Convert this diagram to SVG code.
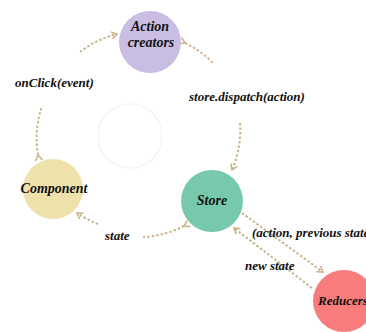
<svg xmlns="http://www.w3.org/2000/svg" width="366" height="332" viewBox="0 0 366 332">
<style>
.lbl{font-family:"Liberation Serif","Times New Roman",serif;font-weight:bold;font-style:italic;fill:#111}
.node{font-size:14px;text-anchor:middle}
.edge{font-size:13px}
.c{fill:none;stroke:#cbb68c;stroke-width:2;stroke-dasharray:2.5 2}
</style>
<defs>
<marker id="chev" markerUnits="userSpaceOnUse" markerWidth="10" markerHeight="10" refX="6" refY="4" orient="auto" overflow="visible">
<path d="M0.5,0.5 L6,4 L0.5,7.5" fill="none" stroke="#cbb68c" stroke-width="1.6"/>
</marker>
</defs>
<rect width="366" height="332" fill="#fff"/>
<circle cx="130" cy="136" r="32" fill="none" stroke="#f5f5f5" stroke-width="1.5"/>
<g id="connectors">
<path class="c" d="M38,155 A100,100 0 0 1 42,106" marker-start="url(#chev)"/>
<path class="c" d="M80,52 A100,100 0 0 1 117,34" marker-end="url(#chev)"/>
<path class="c" d="M185,43 A100,100 0 0 1 213,63" marker-start="url(#chev)"/>
<path class="c" d="M240,123 A100,100 0 0 1 232,170" marker-end="url(#chev)"/>
<path class="c" d="M184,226 A100,100 0 0 1 143,237" marker-start="url(#chev)"/>
<path class="c" d="M98,224 A100,100 0 0 1 77,213" marker-end="url(#chev)"/>
<path class="c" d="M242,213 L323,272" marker-end="url(#chev)"/>
<path class="c" d="M312,288 L234,228" marker-end="url(#chev)"/>
</g>
<g id="edge-labels">
<text class="lbl edge" x="15" y="87">onClick(event)</text>
<text class="lbl edge" x="189" y="101">store.dispatch(action)</text>
<text class="lbl edge" x="105" y="240">state</text>
<text class="lbl edge" x="252" y="237">(action, previous state</text>
<text class="lbl edge" x="245" y="270">new state</text>
</g>
<g id="action-creators">
<circle cx="150" cy="42" r="31" fill="#c9bde4"/>
<text class="lbl node" x="150" y="31">Action</text>
<text class="lbl node" x="151" y="47">creators</text>
</g>
<g id="component">
<circle cx="53" cy="189" r="30" fill="#eee1ab"/>
<text class="lbl node" x="54" y="193" font-size="13.5">Component</text>
</g>
<g id="store">
<circle cx="212" cy="201" r="31" fill="#76c9ab"/>
<text class="lbl node" x="212" y="205" font-size="15">Store</text>
</g>
<g id="reducers">
<circle cx="344" cy="301" r="31" fill="#f87c7c"/>
<text class="lbl" x="318" y="305" font-size="13">Reducers</text>
</g>
</svg>
